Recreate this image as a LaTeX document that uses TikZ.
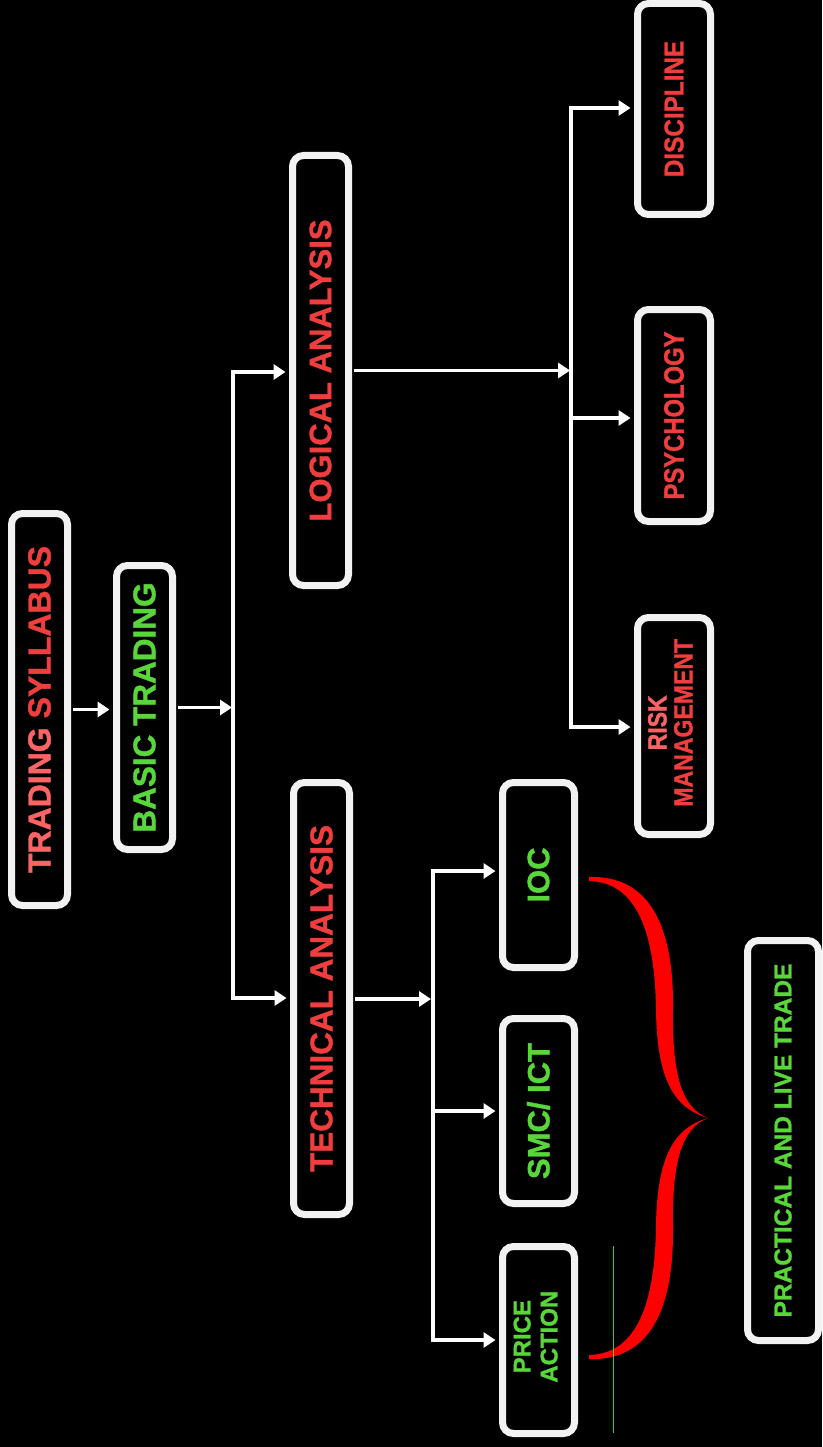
\documentclass[tikz,border=0pt]{standalone}
\usepackage{fontspec}
\setmainfont{Liberation Sans}[BoldFeatures={FakeBold=1.2}]
\usetikzlibrary{arrows.meta}
\definecolor{boxw}{RGB}{242,242,242}
\definecolor{tred}{RGB}{240,62,62}
\definecolor{tredl}{RGB}{250,100,100}
\definecolor{tgreen}{RGB}{88,214,58}
\definecolor{bred}{RGB}{255,0,0}
\definecolor{lgreen}{RGB}{70,200,50}
\newcommand{\bt}[2]{\fontsize{#1}{#2}\selectfont\bfseries}
\begin{document}
\begin{tikzpicture}[x=1pt,y=-1pt,
  box/.style={draw=boxw, line width=7pt, rounded corners=11pt, fill=black, inner sep=0pt, font=\bfseries},
  conn/.style={draw=white, line width=3.2pt, line cap=rect, shorten <=3.5pt, -{Triangle[length=12pt,width=15pt]}},
  tobox/.style={conn, shorten >=3.5pt}]
\fill[black] (0,0) rectangle (822,1447);
\useasboundingbox (0,0) rectangle (822,1447);

% boxes
\node[box, minimum width=56pt, minimum height=392pt] (ts) at (39.5,709.5)
  {\rotatebox{90}{\bt{32}{36}\color{tredl}TRADING \color{tred}SYLLABUS}};
\node[box, minimum width=56pt, minimum height=284pt] (bt) at (144.5,707.5)
  {\rotatebox{90}{\bt{31.5}{36}\color{tgreen}BASIC TRADING}};
\node[box, minimum width=56pt, minimum height=430pt] (la) at (320.5,370.5)
  {\rotatebox{90}{\bt{31}{36}\color{tred}LOGICAL ANALYSIS}};
\node[box, minimum width=56pt, minimum height=432pt] (ta) at (321.5,998.5)
  {\rotatebox{90}{\bt{31.5}{36}\color{tred}TECHNICAL ANALYSIS}};
\node[box, minimum width=73pt, minimum height=211pt] (disc) at (674,109)
  {\rotatebox{90}{\scalebox{0.9}[1]{\bt{27}{30}\color{tred}DISCIPLINE}}};
\node[box, minimum width=73pt, minimum height=212pt] (psy) at (674,415.5)
  {\rotatebox{90}{\scalebox{0.85}[1]{\bt{28}{30}\color{tred}PSYCHOLOGY}}};
\node[box, minimum width=73pt, minimum height=217pt] (risk) at (674,726)
  {\rotatebox{90}{\scalebox{0.87}[1]{\bt{26.5}{25}
   \begin{tabular}{@{}c@{}}\color{tredl}RISK\\\color{tred}MANAGEMENT\end{tabular}}}};
\node[box, minimum width=72pt, minimum height=185pt] (ioc) at (538.5,875)
  {\rotatebox{90}{\bt{31}{36}\color{tgreen}IOC}};
\node[box, minimum width=72pt, minimum height=185pt] (smc) at (538.5,1111)
  {\rotatebox{90}{\bt{31}{36}\color{tgreen}SMC/ ICT}};
\node[box, minimum width=72pt, minimum height=187pt] (pa) at (538.5,1340)
  {\rotatebox{90}{\bt{24}{27}
   \begin{tabular}{@{}c@{}}\color{tgreen}PRICE\\\color{tgreen}ACTION\end{tabular}}};
\node[box, minimum width=71pt, minimum height=400pt] (pl) at (783,1140.5)
  {\rotatebox{90}{\bt{24.5}{30}\color{tgreen}PRACTICAL AND LIVE TRADE}};

% junction points
\coordinate (j1) at (232,707.5);
\coordinate (jla) at (233,372);
\coordinate (jta) at (233,998);
\coordinate (j2) at (570,370.5);
\coordinate (jd) at (571,108);
\coordinate (jp) at (571,418);
\coordinate (jr) at (571,727);
\coordinate (j3) at (431,999);
\coordinate (jioc) at (433,871);
\coordinate (jsmc) at (433,1111);
\coordinate (jpa) at (433,1340);

% connectors
\draw[tobox] (ts.east) -- (ts.east -| bt.west);
\draw[conn] (bt.east) -- (j1);
\draw[tobox, shorten <=0pt] (jta) -- (jla) -- (jla -| la.west);
\draw[tobox, shorten <=0pt] (jta) -- (jta -| ta.west);

\draw[conn] (la.east) -- (j2);
\draw[tobox, shorten <=0pt] (jr) -- (jd) -- (jd -| disc.west);
\draw[tobox, shorten <=0pt] (jp) -- (jp -| psy.west);
\draw[tobox, shorten <=0pt] (jr) -- (jr -| risk.west);

\draw[conn] (ta.east |- j3) -- (j3);
\draw[tobox, shorten <=0pt] (jpa) -- (jioc) -- (jioc -| ioc.west);
\draw[tobox, shorten <=0pt] (jsmc) -- (jsmc -| smc.west);
\draw[tobox, shorten <=0pt] (jpa) -- (jpa -| pa.west);

% brace
\fill[bred] (589,877) .. controls (652,875) and (674,930) .. (673,1010)
  .. controls (672,1075) and (682,1108) .. (708,1118)
  .. controls (682,1128) and (672,1161) .. (673,1226)
  .. controls (674,1306) and (652,1361) .. (589,1359)
  -- (589,1355)
  .. controls (638,1354) and (655,1301) .. (656,1226)
  .. controls (657,1156) and (674,1128) .. (708,1118)
  .. controls (674,1108) and (657,1080) .. (656,1010)
  .. controls (655,935) and (638,882) .. (589,881) -- cycle;

% thin green line
\draw[lgreen, line width=1pt] (613,1246) -- (613,1433);
\end{tikzpicture}
\end{document}
